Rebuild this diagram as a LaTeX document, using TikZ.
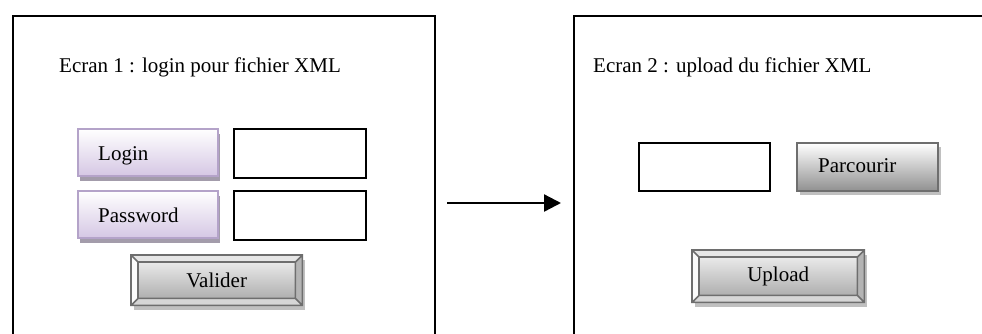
\documentclass[tikz,border=0pt]{standalone}
\usepackage{fontspec}
\setmainfont{Liberation Serif}
\usetikzlibrary{arrows.meta,shadows}
\definecolor{lavb}{HTML}{B4A3C9}
\definecolor{lavf}{HTML}{D5C7E4}
\definecolor{lavs}{HTML}{A39CAB}
\definecolor{gline}{HTML}{6E6E6E}
\definecolor{gshad}{HTML}{C0C0C0}
\definecolor{gtop}{HTML}{F4F4F4}
\definecolor{gbot}{HTML}{A4A4A4}
\definecolor{bvtop}{HTML}{E6E6E6}
\definecolor{bvleft}{HTML}{FBFBFB}
\definecolor{bvbot}{HTML}{D6D6D6}
\definecolor{bvright}{HTML}{B4B4B4}
\newcommand\bevbtn[5]{%
  \node[bevface, minimum width=#4pt, minimum height=#5pt] (#1) at (#2,#3) {};
  \coordinate (#1a) at ([shift={(7pt,-7pt)}]#1.north west);
  \coordinate (#1b) at ([shift={(-7pt,-7pt)}]#1.north east);
  \coordinate (#1c) at ([shift={(-7pt,7pt)}]#1.south east);
  \coordinate (#1d) at ([shift={(7pt,7pt)}]#1.south west);
  \fill[bvtop] (#1.north west) -- (#1.north east) -- (#1b) -- (#1a) -- cycle;
  \fill[bvleft] (#1.north west) -- (#1a) -- (#1d) -- (#1.south west) -- cycle;
  \fill[bvbot] (#1.south west) -- (#1d) -- (#1c) -- (#1.south east) -- cycle;
  \fill[bvright] (#1.north east) -- (#1b) -- (#1c) -- (#1.south east) -- cycle;
  \draw[bevline] (#1.north west) rectangle (#1.south east)
    (#1a) rectangle (#1c)
    (#1.north west) -- (#1a) (#1.north east) -- (#1b)
    (#1.south east) -- (#1c) (#1.south west) -- (#1d);
}
\begin{document}
\begin{tikzpicture}[x=1pt,y=-1pt,
  font=\fontsize{21}{25}\selectfont,
  frame/.style={draw=black,line width=2.1pt,anchor=north west,inner sep=0pt,
    minimum width=422pt,minimum height=345pt},
  inbox/.style={draw=black,line width=1.9pt,fill=white,anchor=north west,inner sep=0pt},
  lavbtn/.style={draw=lavb,line width=1.8pt,top color=white,bottom color=lavf,
    anchor=north west,inner sep=0pt,
    drop shadow={shadow xshift=2.5pt,shadow yshift=-5pt,fill=lavs,opacity=1}},
  graybtn/.style={draw=gline,line width=1.9pt,top color=white,bottom color=gbot!88!black,
    anchor=north west,inner sep=0pt,
    drop shadow={shadow xshift=3pt,shadow yshift=-4.5pt,fill=gshad,opacity=1}},
  bevface/.style={top color=gtop,bottom color=gbot,anchor=north west,inner sep=0pt,
    drop shadow={shadow xshift=3pt,shadow yshift=-5pt,fill=gshad,opacity=1}},
  bevline/.style={draw=gline,line width=1.6pt,line join=miter},
  lbl/.style={inner sep=0pt,text=black},
  arr/.style={line width=2.3pt,-{Triangle[length=17pt,width=17pt]}}
]
\useasboundingbox (0,0) rectangle (982,333);
\begin{scope}
\clip (0,0) rectangle (982,333);
\fill[white] (0,0) rectangle (982,333);
% frames
\node[frame] (f1) at (12,15) {};
\node[frame] (f2) at (573,15) {};
% titles
\node[lbl,anchor=base west] (t1) at (59,72) {Ecran 1 : login pour fichier XML};
\node[lbl,anchor=base west] (t2) at (593,72) {Ecran 2 : upload du fichier XML};
% screen 1
\node[lavbtn,minimum width=140pt,minimum height=47pt] (login) at (77,128) {};
\node[lavbtn,minimum width=140pt,minimum height=47pt] (pass) at (77,190) {};
\node[lbl,anchor=base west] (loginT) at (98,160) {Login};
\node[lbl,anchor=base west] (passT) at (98,222) {Password};
\node[inbox,minimum width=132pt,minimum height=49pt] (in1) at (233,128) {};
\node[inbox,minimum width=132pt,minimum height=49pt] (in2) at (233,190) {};
\bevbtn{valider}{131}{255}{171}{50}
\node[lbl] (validerT) at (valider.center) {\raisebox{-1pt}{Valider}};
% screen 2
\node[inbox,minimum width=131pt,minimum height=48pt] (in3) at (638,142) {};
\node[graybtn,minimum width=141pt,minimum height=48pt] (parc) at (796,142) {};
\node[lbl,anchor=base west] (parcT) at (818,172) {Parcourir};
\bevbtn{upload}{692}{250}{172}{52}
\node[lbl] (uploadT) at (upload.center) {\raisebox{-1pt}{Upload}};
% arrow
\coordinate (ay) at (0,203);
\draw[arr,shorten <=11pt,shorten >=12pt] (f1.east |- ay) -- (f2.west |- ay);
\end{scope}
\end{tikzpicture}
\end{document}
